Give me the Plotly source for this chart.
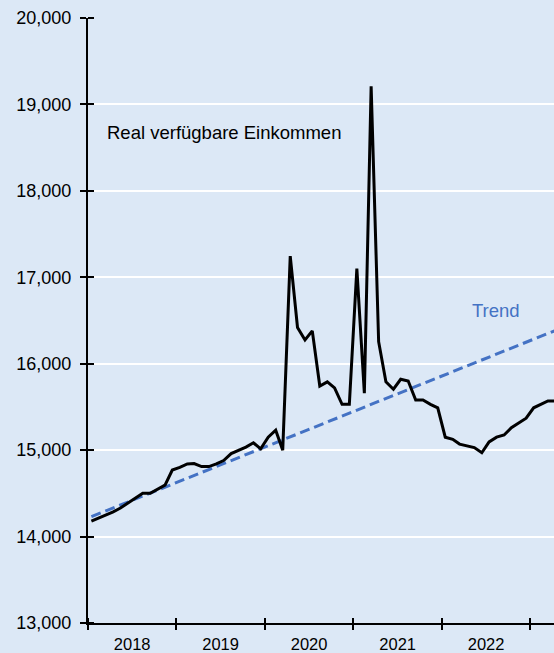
import plotly.graph_objects as go
import pandas as pd

BG = "#DCE8F6"
TREND_BLUE = "#4472C4"
FONT = "Liberation Sans, Arial, sans-serif"

# monthly real disposable income, Jan 2018 .. Apr 2023 (plotted mid-month)
months = pd.date_range("2018-01-01", periods=64, freq="MS") + pd.Timedelta(days=14)
income = [
    14180, 14215, 14250, 14285, 14330, 14390, 14445, 14500, 14500, 14550, 14595, 14770,
    14800, 14840, 14845, 14810, 14810, 14840, 14880, 14960, 15000, 15035, 15085, 15015,
    15150, 15230, 15000, 17245, 16420, 16275, 16380, 15742, 15790, 15720, 15530, 15530,
    17100, 15660, 19210, 16255, 15790, 15705, 15820, 15800, 15580, 15580, 15530, 15490,
    15150, 15125, 15070, 15050, 15030, 14970, 15095, 15150, 15175, 15260, 15315, 15370,
    15490, 15530, 15570, 15570,
]

# pre-pandemic linear trend, extended
trend_dates = ["2018-01-15", "2023-04-15"]
trend_values = [14230, 16385]

year_starts = [f"{y}-01-01" for y in range(2018, 2024)]
y_ticks = list(range(13000, 20001, 1000))

fig = go.Figure()
fig.add_trace(go.Scatter(
    x=trend_dates, y=trend_values, mode="lines",
    line=dict(color=TREND_BLUE, width=3, dash="10px,5px"),
    showlegend=False, hoverinfo="skip",
))
fig.add_trace(go.Scatter(
    x=months, y=income, mode="lines",
    line=dict(color="black", width=3),
    showlegend=False,
))

fig.update_layout(
    width=554, height=653,
    paper_bgcolor=BG, plot_bgcolor=BG,
    margin=dict(l=88, r=0, t=18, b=30),
    font=dict(family=FONT, size=17, color="black"),
    xaxis=dict(
        type="date",
        range=["2018-01-01", "2023-04-09"],
        tick0="2018-01-01", dtick="M12",
        tickformat="%Y",
        ticklabelmode="period",
        ticks="outside", ticklen=5, tickwidth=2, tickcolor="black",
        showline=True, linecolor="black", linewidth=2,
        showgrid=False, zeroline=False, automargin=False,
        tickfont=dict(family=FONT, size=16.5, color="black"),
        ticklabelstandoff=0,
        minor=dict(
            tickvals=[d + " 01:00" for d in year_starts],
            ticks="inside", ticklen=5, tickwidth=2, tickcolor="black", showgrid=False,
        ),
    ),
    yaxis=dict(
        range=[13000, 20000],
        tickvals=y_ticks,
        tickformat=",d",
        ticks="outside", ticklen=6, tickwidth=2, tickcolor="black",
        showline=True, linecolor="black", linewidth=2,
        showgrid=True, gridcolor="white", gridwidth=1.5,
        zeroline=False, automargin=False,
        tickfont=dict(family=FONT, size=18, color="black"),
        ticklabelstandoff=5,
        minor=dict(
            tickvals=[v + 0.01 for v in y_ticks],
            ticks="inside", ticklen=6, tickwidth=2, tickcolor="black", showgrid=False,
        ),
    ),
    annotations=[
        dict(text="Real verfügbare Einkommen", xref="paper", yref="paper",
             x=0.037, y=0.81, xanchor="left", yanchor="middle", showarrow=False,
             font=dict(family=FONT, size=18.5, color="black")),
        dict(text="Trend", xref="paper", yref="paper",
             x=0.8755, y=0.517, xanchor="center", yanchor="middle", showarrow=False,
             font=dict(family=FONT, size=18.5, color=TREND_BLUE)),
    ],
)

# drop the browser's default 8px body margin so the chart fills the window
fig.write_html("out.html", config={"displayModeBar": False},
               post_script="document.body.style.margin='0';")
